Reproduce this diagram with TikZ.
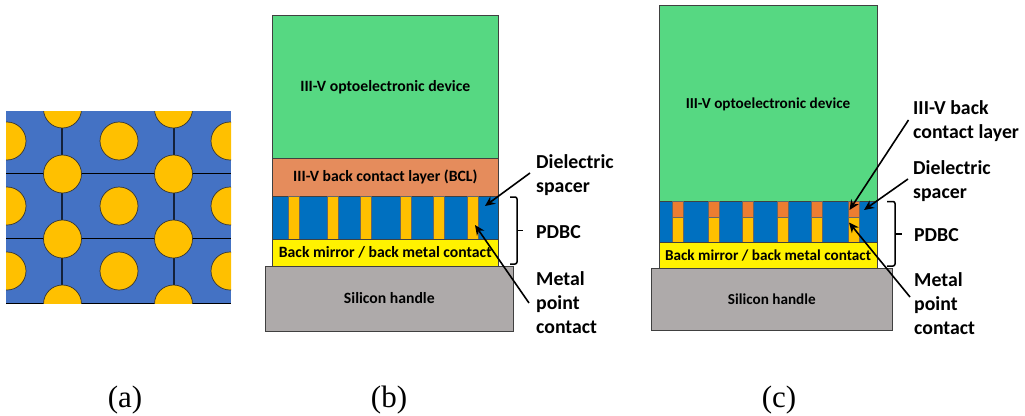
\documentclass[tikz,border=0pt]{standalone}
\usepackage{fontspec}
\setmainfont{Carlito}
\newfontfamily\capfont{Liberation Serif}
\usetikzlibrary{positioning}
\usetikzlibrary{arrows.meta}

\definecolor{devicegreen}{HTML}{56D882}
\definecolor{bclorange}{HTML}{E58C5C}
\definecolor{dielblue}{HTML}{0070C0}
\definecolor{metalgold}{HTML}{FFC000}
\definecolor{handlegray}{HTML}{AEAAAA}
\definecolor{cellblue}{HTML}{4472C4}
\definecolor{caporange}{HTML}{ED7D31}

\begin{document}
\begin{tikzpicture}[x=1pt,y=-1pt]

\tikzset{layer/.style={
		draw=black!75,
		line width=0.6pt,
		anchor=north west,
		inner sep=0pt,
		font=\bfseries\fontsize{15.7}{18}\selectfont
	},
	smalllayer/.style={
		layer,
		font=\bfseries\fontsize{15.2}{18}\selectfont
	},
	callout/.style={
		anchor=west,
		align=left,
		inner sep=0pt,
		font=\bfseries\fontsize{19.8}{24}\selectfont
	},
	pointer/.style={-{Stealth[length=10pt,width=9pt]},line width=1.6pt},
	bracket/.style={line width=1.5pt,rounded corners=2pt},
	pillar/.style={draw=black!60,line width=0.5pt},
	dot/.style={fill=metalgold,draw=black!80,line width=0.7pt},
	caption/.style={font=\capfont\fontsize{31}{34}\selectfont,inner sep=0pt}
}
\useasboundingbox (0,0) rectangle (1025,415);

%(a)
\begin{scope}
	\clip (6,111) rectangle (231,303.5);
	\fill[cellblue] (6,111) rectangle (231,303.5);
	\foreach \y in {173,238,303}
		\draw[line width=0.9pt] (6,\y) -- (231,\y);
	\foreach \x in {62,174}
		\draw[line width=1.1pt,black!70!cellblue] (\x,111) -- (\x,303);
	\foreach \x in {62.5,173.5}
		\foreach \y in {109,174,239,304}
			\draw[dot] (\x,\y) circle (19);
	\foreach \x in {7,119,230}
		\foreach \y in {141,206,271}
			\draw[dot] (\x,\y) circle (19);
\end{scope}
\node[caption] (capa) at (125,400) {(a)};

%(b)
\node[layer,fill=devicegreen,minimum width=226pt,minimum height=143pt] (devb) at (272,15) {III-V optoelectronic device};
\node[layer,fill=bclorange,minimum width=226pt,minimum height=38pt] (bclb) at (272,158) {III-V back contact layer (BCL)};
\node[layer,fill=dielblue,minimum width=226pt,minimum height=43pt] (pdbcb) at (272,196) {};
\foreach \x in {288,327,360.5,400,433,467}
	\draw[pillar,fill=metalgold] (\x,196) rectangle ++(11,43);
\node[layer,fill=yellow,minimum width=226pt,minimum height=26.5pt] (mirrorb) at (272,239) {Back mirror / back metal contact};
\node[layer,fill=handlegray,minimum width=248pt,minimum height=65pt] (sib) at (265,265.5) {Silicon handle};

\node[callout] (dielb) at (536,175) {Dielectric\\spacer};
\node[callout] (labelb) at (536,232) {PDBC};
\node[callout] (metalb) at (536,303) {Metal\\point\\contact};
\coordinate (dielbend) at (485,206);
\coordinate (metalbend) at (475,225);
\coordinate (dielbstart) at (530,173);
\coordinate (metalbstart) at (529,303);
\draw[pointer] (dielbstart) -- (dielbend);
\draw[pointer] (metalbstart) -- (metalbend);
\coordinate (braceb) at (517,230.5);
\draw[bracket] (510,197) -| (braceb) |- (510,264);
\draw[line width=1.5pt] (braceb) -- ++(6,0);
\node[caption] (capb) at (389,400) {(b)};

%(c)
\node[layer,fill=devicegreen,minimum width=217.5pt,minimum height=196pt] (devc) at (659,5) {};
\node[font=\bfseries\fontsize{15.2}{18}\selectfont,inner sep=0pt] (devctext) at (768,104.5) {III-V optoelectronic device};
\node[layer,fill=dielblue,minimum width=217.5pt,minimum height=41pt] (pdbcc) at (659,201) {};
\foreach \x in {672.5,708,742,777,811.5,848} {
	\draw[pillar,fill=caporange] (\x,201) rectangle ++(11,16.5);
	\draw[pillar,fill=metalgold] (\x,217.5) rectangle ++(11,24.5);
}
\node[smalllayer,fill=yellow,minimum width=217.5pt,minimum height=26pt] (mirrorc) at (659,242) {Back mirror / back metal contact};
\node[smalllayer,fill=handlegray,minimum width=241pt,minimum height=62pt] (sic) at (651,268) {Silicon handle};

\node[callout] (bclc) at (913,121) {III-V back\\contact layer};
\node[callout] (dielc) at (913,181) {Dielectric\\spacer};
\node[callout] (labelc) at (914,235) {PDBC};
\node[callout] (metalc) at (914,304) {Metal\\point\\contact};
\coordinate (bclcstart) at (908.5,120);
\coordinate (bclcend) at (849.5,210);
\coordinate (dielcstart) at (908,179);
\coordinate (dielcend) at (864,210);
\coordinate (metalcstart) at (910,297);
\coordinate (metalcend) at (849,222.5);
\draw[pointer] (bclcstart) -- (bclcend);
\draw[pointer] (dielcstart) -- (dielcend);
\draw[pointer] (metalcstart) -- (metalcend);
\coordinate (bracec) at (895,234);
\draw[bracket] (887,201.5) -| (bracec) |- (887,266);
\draw[line width=1.5pt] (bracec) -- ++(7,0);
\node[caption] (capc) at (779,400) {(c)};
\end{tikzpicture}
\end{document}
